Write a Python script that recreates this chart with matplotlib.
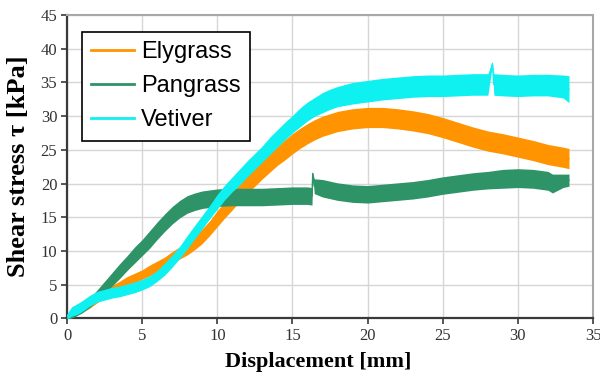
import matplotlib
matplotlib.use("Agg")
import matplotlib.pyplot as plt
import numpy as np

# ---- data (displacement mm, shear stress kPa, band half-width) ----
ely_x = [0, 0.5, 1, 1.5, 2, 2.5, 3, 3.5, 4, 4.5, 5, 5.5, 6, 6.5, 7, 7.5, 8, 8.5, 9, 9.5,
         10, 10.5, 11, 11.5, 12, 12.5, 13, 13.5, 14, 14.5, 15, 15.5, 16, 16.5, 17,
         18, 19, 20, 21, 22, 23, 24, 25, 26, 27, 28, 29, 30, 31, 32, 33, 33.4]
ely_y = [0, 0.6, 1.3, 2.0, 2.8, 3.6, 4.3, 4.9, 5.5, 6.0, 6.5, 7.1, 7.7, 8.3, 9.0, 9.7, 10.4, 11.2, 12.2, 13.4,
         14.8, 16.1, 17.4, 18.7, 19.9, 21.0, 22.1, 23.1, 24.1, 25.0, 25.9, 26.7, 27.4, 28.0, 28.5,
         29.2, 29.6, 29.8, 29.8, 29.6, 29.3, 28.9, 28.3, 27.6, 26.9, 26.3, 25.9, 25.4, 24.9, 24.3, 23.9, 23.7]
ely_s = [0.2, 0.3, 0.4, 0.5, 0.5, 0.6, 0.6, 0.6, 0.7, 0.7, 0.7, 0.8, 0.8, 0.8, 0.9, 0.9, 1.0, 1.0, 1.1, 1.1,
         1.2, 1.2, 1.3, 1.3, 1.3, 1.4, 1.4, 1.4, 1.4, 1.5, 1.5, 1.5, 1.5, 1.5, 1.5,
         1.5, 1.5, 1.5, 1.5, 1.5, 1.5, 1.5, 1.5, 1.5, 1.5, 1.5, 1.5, 1.5, 1.5, 1.5, 1.5, 1.5]

pan_x = [0, 0.5, 1, 1.5, 2, 2.5, 3, 3.5, 4, 4.5, 5, 5.5, 6, 6.5, 7, 7.5, 8, 8.5, 9,
         10, 11, 12, 13, 14, 15, 16, 16.3, 16.35, 16.45,
         17, 18, 19, 20, 21, 22, 23, 24, 25, 26, 27, 28, 29, 30, 31, 32, 32.3, 33, 33.4]
pan_y = [0, 0.6, 1.3, 2.3, 3.4, 4.6, 5.8, 7.0, 8.2, 9.4, 10.5, 11.7, 13.0, 14.2, 15.3, 16.2, 16.9, 17.3, 17.6,
         17.9, 18.0, 18.0, 18.0, 18.1, 18.2, 18.2, 18.1, 21.5, 19.6,
         19.3, 18.8, 18.5, 18.4, 18.6, 18.8, 19.0, 19.3, 19.7, 20.0, 20.3, 20.5, 20.7, 20.8, 20.7, 20.4, 20.0, 20.4, 20.5]
pan_s = [0.2, 0.4, 0.5, 0.7, 0.8, 0.9, 1.0, 1.1, 1.1, 1.2, 1.2, 1.3, 1.3, 1.3, 1.3, 1.3, 1.3, 1.3, 1.3,
         1.3, 1.3, 1.3, 1.3, 1.3, 1.3, 1.3, 1.3, 0.2, 1.1,
         1.3, 1.3, 1.3, 1.3, 1.3, 1.3, 1.3, 1.3, 1.3, 1.3, 1.3, 1.3, 1.4, 1.4, 1.4, 1.4, 1.4, 1.0, 0.9]

vet_x = [0, 0.3, 0.7, 1, 1.5, 2, 2.5, 3, 3.5, 4, 4.5, 5, 5.5, 6, 6.5, 7, 7.5, 8, 8.5, 9, 9.5,
         10, 10.5, 11, 11.5, 12, 12.5, 13, 13.5, 14, 14.5, 15, 15.5, 16, 16.5, 17, 17.5, 18,
         19, 20, 21, 22, 23, 24, 25, 26, 27, 28, 28.3, 28.4, 29, 30, 31, 32, 33, 33.4]
vet_y = [0.3, 1.0, 1.4, 1.8, 2.6, 3.2, 3.5, 3.8, 4.0, 4.3, 4.6, 5.0, 5.5, 6.3, 7.3, 8.5, 9.8, 11.3, 12.8, 14.3, 15.8,
         17.3, 18.7, 19.9, 21.0, 22.2, 23.3, 24.4, 25.6, 26.7, 27.8, 28.8, 29.8, 30.7, 31.4, 32.0, 32.5, 32.9,
         33.4, 33.7, 34.0, 34.2, 34.4, 34.5, 34.5, 34.6, 34.7, 34.7, 37.8, 34.7, 34.6, 34.5, 34.6, 34.6, 34.4, 34.0]
vet_s = [0.4, 0.7, 0.8, 0.8, 0.8, 0.8, 0.8, 0.8, 0.8, 0.8, 0.8, 0.8, 0.8, 0.8, 0.9, 0.9, 0.9, 1.0, 1.0, 1.0, 1.0,
         1.1, 1.1, 1.1, 1.2, 1.2, 1.2, 1.2, 1.3, 1.3, 1.3, 1.3, 1.4, 1.4, 1.4, 1.5, 1.5, 1.5,
         1.6, 1.6, 1.6, 1.6, 1.6, 1.6, 1.6, 1.6, 1.6, 1.6, 0.3, 1.6, 1.6, 1.6, 1.6, 1.6, 1.7, 2.0]

series = [
    ('Elygrass', ely_x, ely_y, ely_s, '#ff9400'),
    ('Pangrass', pan_x, pan_y, pan_s, '#2e9467'),
    ('Vetiver', vet_x, vet_y, vet_s, '#0ff0f0'),
]

serif = ['Liberation Serif', 'DejaVu Serif']

fig = plt.figure(figsize=(6, 3.73), dpi=100)
ax = fig.add_axes([0.1117, 0.1466, 0.8767, 0.8131])

handles = []
for name, x, y, s, c in series:
    x = np.array(x)
    y = np.array(y)
    s = np.array(s)
    ax.fill_between(x, y - s, y + s, color=c, lw=0, zorder=3)
    ax.plot(x, y, color=c, lw=1.0, zorder=3)
    h, = ax.plot([], [], color=c, lw=2, label=name)
    handles.append(h)

ax.set_xlim(0, 35)
ax.set_ylim(0, 45)
ax.set_xticks(np.arange(0, 36, 5))
ax.set_yticks(np.arange(0, 46, 5))
ax.grid(True, color='#d6d6d6', lw=1.0, zorder=0)
ax.set_axisbelow(True)

for side in ['top', 'right']:
    ax.spines[side].set_color('#a8a8a8')
    ax.spines[side].set_linewidth(1.5)
for side in ['left', 'bottom']:
    ax.spines[side].set_color('#3a3a3a')
    ax.spines[side].set_linewidth(1.6)

ax.tick_params(direction='out', length=4, width=1.2, color='#3a3a3a', labelsize=12, pad=3)
for lab in ax.get_xticklabels() + ax.get_yticklabels():
    lab.set_family(serif)
    lab.set_color('#333333')

ax.set_xlabel('Displacement [mm]', family=serif, fontsize=16, fontweight='bold', va='top')
ax.xaxis.set_label_coords(0.477, -0.11)
ax.set_ylabel('Shear stress τ [kPa]', family=serif, fontsize=19, fontweight='bold', va='center')
ax.yaxis.set_label_coords(-0.092, 0.50)

leg = ax.legend(handles=handles, loc='upper left', bbox_to_anchor=(0.0285, 0.944),
                borderaxespad=0, fancybox=False, frameon=True, handlelength=1.8,
                handletextpad=0.3, labelspacing=0.5, borderpad=0.4,
                prop={'family': ['Liberation Sans', 'DejaVu Sans'], 'size': 17})
leg.get_frame().set_edgecolor('black')
leg.get_frame().set_linewidth(1.2)
leg.get_frame().set_alpha(1)

fig.savefig('out.png', dpi=100)
